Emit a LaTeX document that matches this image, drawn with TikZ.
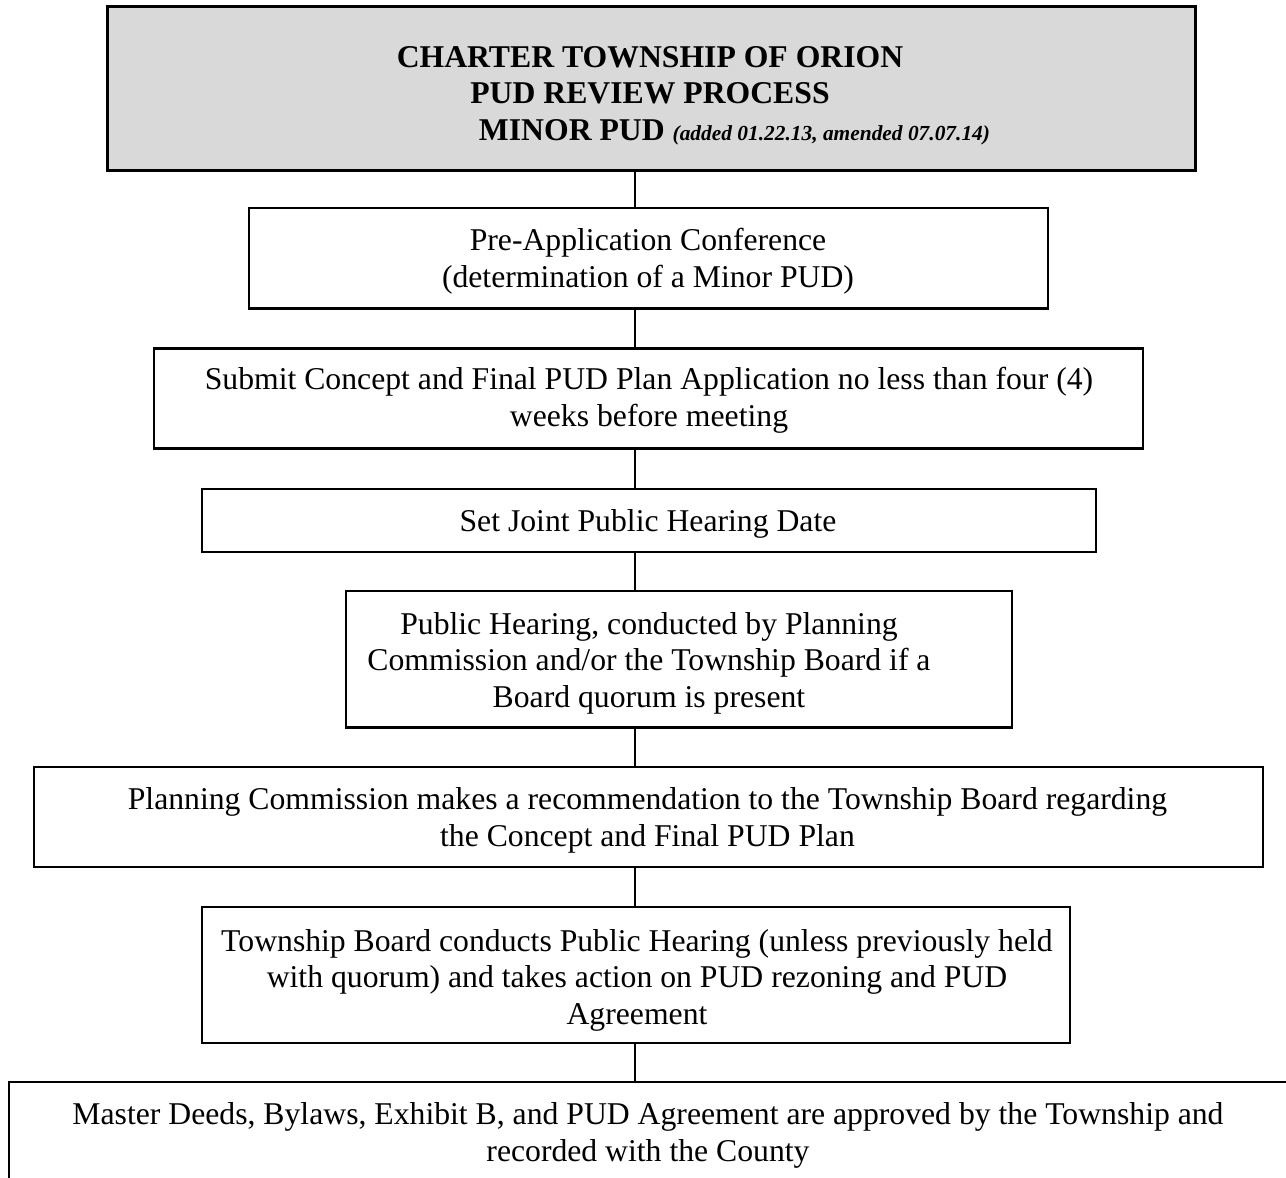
\documentclass[tikz,border=0pt]{standalone}
\usepackage{fontspec}
\setmainfont{Liberation Serif}
\definecolor{titlegray}{HTML}{D9D9D9}
\newcommand\bodyfont{\fontsize{31.7}{36.5}\selectfont}
\newcommand\notefont{\fontsize{21.4}{24}\selectfont}
\tikzset{
  stepbox/.style={draw=black, line width=2.6pt, inner sep=0pt, rectangle},
  titlebox/.style={stepbox, line width=3pt, fill=titlegray},
  txt/.style={align=center, inner sep=0pt, font=\bodyfont},
  link/.style={draw=black, line width=2.2pt},
}
\begin{document}
\begin{tikzpicture}[x=1pt,y=-1pt]
\useasboundingbox (0,0) rectangle (1286,1178);
\clip (0,0) rectangle (1286,1178);
\fill[white] (0,0) rectangle (1286,1178);
\coordinate (spine) at (635,0);

% boxes
\node[titlebox, minimum width=1088pt, minimum height=164pt] (b1) at (651,88) {};
\node[stepbox, minimum width=799pt, minimum height=100.5pt] (b2) at (648.5,258.25) {};
\node[stepbox, minimum width=989pt, minimum height=100pt] (b3) at (648.5,398.5) {};
\node[stepbox, minimum width=894pt, minimum height=63pt] (b4) at (649,520.5) {};
\node[stepbox, minimum width=666pt, minimum height=136.5pt] (b5) at (679,659.25) {};
\node[stepbox, minimum width=1229pt, minimum height=100pt] (b6) at (648.5,817) {};
\node[stepbox, minimum width=868pt, minimum height=136pt] (b7) at (636,975) {};
\node[stepbox, minimum width=1291pt, minimum height=113pt] (b8) at (654.5,1138.5) {};

% texts
\node[txt, font=\bodyfont\bfseries] (t1) at (650,95.5) {CHARTER TOWNSHIP OF ORION\\PUD REVIEW PROCESS\\\hspace*{169pt}MINOR PUD {\notefont\itshape (added 01.22.13, amended 07.07.14)}};
\node[txt] (t2) at (648,261) {Pre-Application Conference\\(determination of a Minor PUD)};
\node[txt] (t3) at (649,400.5) {Submit Concept and Final PUD Plan Application no less than four (4)\\weeks before meeting};
\node[txt] (t4) at (648,524.3) {Set Joint Public Hearing Date};
\node[txt] (t5) at (649,663.3) {Public Hearing, conducted by Planning\\Commission and/or the Township Board if a\\Board quorum is present};
\node[txt] (t6) at (647.5,820.5) {Planning Commission makes a recommendation to the Township Board regarding\\the Concept and Final PUD Plan};
\node[txt] (t7) at (637,980) {Township Board conducts Public Hearing (unless previously held\\with quorum) and takes action on PUD rezoning and PUD\\Agreement};
\node[txt] (t8) at (648,1135.5) {Master Deeds, Bylaws, Exhibit B, and PUD Agreement are approved by the Township and\\recorded with the County};

% connectors
\draw[link] (b1.south -| spine) -- (b2.north -| spine);
\draw[link] (b2.south -| spine) -- (b3.north -| spine);
\draw[link] (b3.south -| spine) -- (b4.north -| spine);
\draw[link] (b4.south -| spine) -- (b5.north -| spine);
\draw[link] (b5.south -| spine) -- (b6.north -| spine);
\draw[link] (b6.south -| spine) -- (b7.north -| spine);
\draw[link] (b7.south -| spine) -- (b8.north -| spine);
\end{tikzpicture}
\end{document}
